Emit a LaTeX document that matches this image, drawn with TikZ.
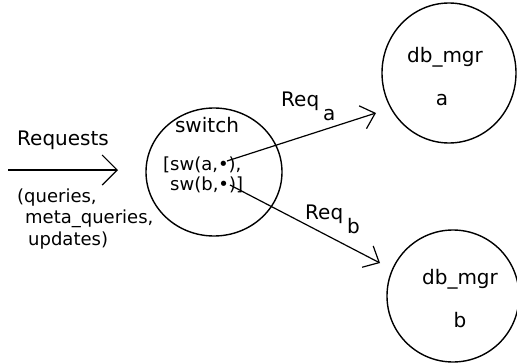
\documentclass[tikz,border=0pt]{standalone}
\usepackage{fontspec}
\setmainfont{DejaVu Sans}
\usetikzlibrary{arrows.meta,positioning,shapes.geometric}
\tikzset{
	dbcircle/.style={
		draw, ellipse, line width=1.4pt,
		minimum width=136pt, minimum height=136pt, inner sep=0pt
	},
	big_text/.style={font=\fontsize{20}{22}\selectfont, inner sep=0pt},
	small_text/.style={font=\fontsize{18}{20}\selectfont, inner sep=0pt, anchor=base west},
	req_arrow/.style={-{Straight Barb[length=13pt,width=24pt]}, line width=1.2pt}
}

\begin{document}
\begin{tikzpicture}[x=1pt,y=-1pt]
				\useasboundingbox (0,0) rectangle (517,364);
				\node[dbcircle, minimum height=128pt] (switch) at (214,172) {};
				\node[dbcircle, minimum height=140pt, minimum width=134pt] (dba) at (449,73) {};
				\node[dbcircle, minimum size=132pt] (dbb) at (453,296) {};
				\node[big_text, anchor=base] (sw_title) at (207,132) {switch};
				\node[small_text] (sw_a) at (163,170) {[sw(a,•),};
				\node[small_text] (sw_b) at (170,190) {sw(b,•)]};
				\node[big_text, anchor=base] (dba_title) at (445,62) {db\_mgr};
				\node[big_text, anchor=base] (dba_name) at (442,105) {a};
				\node[big_text, anchor=base] (dbb_title) at (460,284) {db\_mgr};
				\node[big_text, anchor=base] (dbb_name) at (460,327) {b};
				\node[big_text, anchor=base west] (requests) at (17,145) {Requests};
				\node[small_text] (kinds1) at (17,202) {(queries,};
				\node[small_text] (kinds2) at (25,223) {meta\_queries,};
				\node[small_text] (kinds3) at (28,245) {updates)};
				\node[big_text, anchor=base west] (req_a) at (281,106) {Req\hspace{4pt}\raisebox{-14pt}{a}};
				\node[big_text, anchor=base west] (req_b) at (305,219) {Req\hspace{4pt}\raisebox{-14pt}{b}};
				\coordinate (in_start) at (8,170);
				\coordinate (in_end) at (118,170);
				\coordinate (dot_a) at (227,161);
				\coordinate (dot_b) at (230,185);
				\coordinate (to_a) at (376,113);
				\coordinate (to_b) at (380,263);
				\draw[req_arrow, -{Straight Barb[length=15pt,width=30pt]}] (in_start) -- (in_end);
				\draw[req_arrow] (dot_a) -- (to_a);
				\draw[req_arrow] (dot_b) -- (to_b);
			\end{tikzpicture}
\end{document}
